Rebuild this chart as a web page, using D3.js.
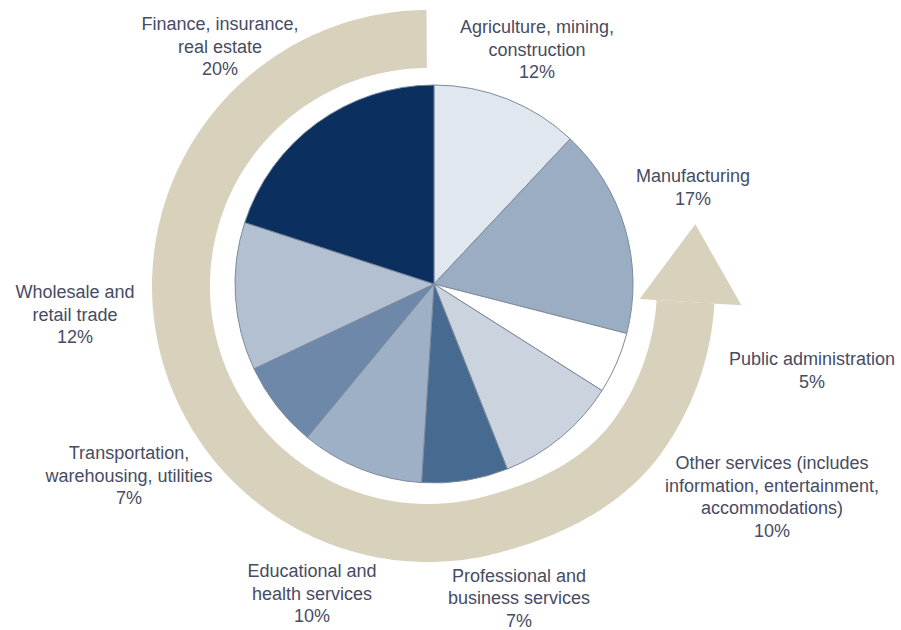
<!DOCTYPE html>
<html>
<head>
<meta charset="utf-8">
<title>Share of output by industry</title>
<script src="https://cdn.jsdelivr.net/npm/d3@7/dist/d3.min.js"></script>
<style>
  html, body { margin: 0; padding: 0; background: #ffffff; }
  svg { display: block; }
  .lbl { font-family: "Liberation Sans", Arial, Helvetica, sans-serif; font-size: 18px; fill: #464c63; }
</style>
</head>
<body>
<svg id="chart" width="901" height="630"></svg>
<script>
// ---- data: industries clockwise from 12 o'clock ----
const sectors = [
  "Agriculture, mining, construction",
  "Manufacturing",
  "Public administration",
  "Other services (includes information, entertainment, accommodations)",
  "Professional and business services",
  "Educational and health services",
  "Transportation, warehousing, utilities",
  "Wholesale and retail trade",
  "Finance, insurance, real estate"
];
const shares = [12, 17, 5, 10, 7, 10, 7, 12, 20];
const labelLines = [
  ["Agriculture, mining,", "construction"],
  ["Manufacturing"],
  ["Public administration"],
  ["Other services (includes", "information, entertainment,", "accommodations)"],
  ["Professional and", "business services"],
  ["Educational and", "health services"],
  ["Transportation,", "warehousing, utilities"],
  ["Wholesale and", "retail trade"],
  ["Finance, insurance,", "real estate"]
];

// ---- layout ----
const pieCenter = [434, 284];
const pieRadius = 199;
const sliceColors = ["#e1e7ef", "#9badc3", "#ffffff", "#cbd3de", "#476a90",
                     "#9db0c6", "#6d88a8", "#b2c0d2", "#0b2f5e"];
// label anchor: centre x and baseline of the first line
const labelAnchors = [
  [537, 33], [693, 182], [812, 365], [772, 469], [519, 581.5],
  [312, 577], [129, 459], [75, 298], [220, 30]
];
const lineStep = 22.5;

// the circular "flow" arrow around the pie
const ringCenter = [428, 286];
const ringInner = 218, ringOuter = 276;
const deg = Math.PI / 180;
const arrowEnd = 93.5 * deg;      // where the shaft meets the head
const ringStart = 359.7 * deg;    // flat cut near 12 o'clock

const svg = d3.select("#chart");

// ---- ring (spirals slightly outward as it climbs toward the head) ----
function drift(a) {
  const t = Math.max(0, Math.min(1, (165 * deg - a) / (40 * deg)));
  return 11 * t * t * (3 - 2 * t);
}
const ringAngles = d3.range(arrowEnd, ringStart, 0.5 * deg).concat([ringStart]);
const ringArea = d3.areaRadial()
  .angle(a => a)
  .innerRadius(a => ringInner + drift(a))
  .outerRadius(a => ringOuter + drift(a))
  .curve(d3.curveCatmullRom);

const ringG = svg.append("g").attr("transform", `translate(${ringCenter})`);
ringG.append("path")
  .attr("d", ringArea(ringAngles))
  .attr("fill", "#d8d2bd");

// arrow head: base across the ring at arrowEnd, tip along the tangent
const headInner = 212, headOuter = 314, headLen = 78;
const u = [Math.sin(arrowEnd), -Math.cos(arrowEnd)];
const tng = [Math.cos(arrowEnd), Math.sin(arrowEnd)].map(v => -v);
const headMid = (headInner + headOuter) / 2;
const headPts = [
  [u[0] * headInner, u[1] * headInner],
  [u[0] * headMid + tng[0] * headLen, u[1] * headMid + tng[1] * headLen],
  [u[0] * headOuter, u[1] * headOuter]
];
ringG.append("path")
  .attr("d", d3.line()(headPts) + "Z")
  .attr("fill", "#d8d2bd");

// ---- pie ----
const pie = d3.pie().sort(null).value(d => d);
const arcs = pie(shares);
const arc = d3.arc().innerRadius(0).outerRadius(pieRadius);

const pieG = svg.append("g").attr("transform", `translate(${pieCenter})`);
pieG.selectAll("path.slice")
  .data(arcs)
  .join("path")
  .attr("class", "slice")
  .attr("d", arc)
  .attr("fill", (d, i) => sliceColors[i])
  .attr("stroke", "#7c8a9b")
  .attr("stroke-width", 1)
  .attr("stroke-linejoin", "round");

// ---- labels ----
const labelG = svg.append("g");
sectors.forEach((name, i) => {
  const lines = labelLines[i].concat([`${shares[i]}%`]);
  const [x, y] = labelAnchors[i];
  const t = labelG.append("text")
    .attr("class", "lbl")
    .attr("text-anchor", "middle")
    .attr("x", x)
    .attr("y", y);
  t.append("title").text(name);
  lines.forEach((ln, k) => {
    t.append("tspan").attr("x", x).attr("y", y + k * lineStep).text(ln);
  });
});
</script>
</body>
</html>
